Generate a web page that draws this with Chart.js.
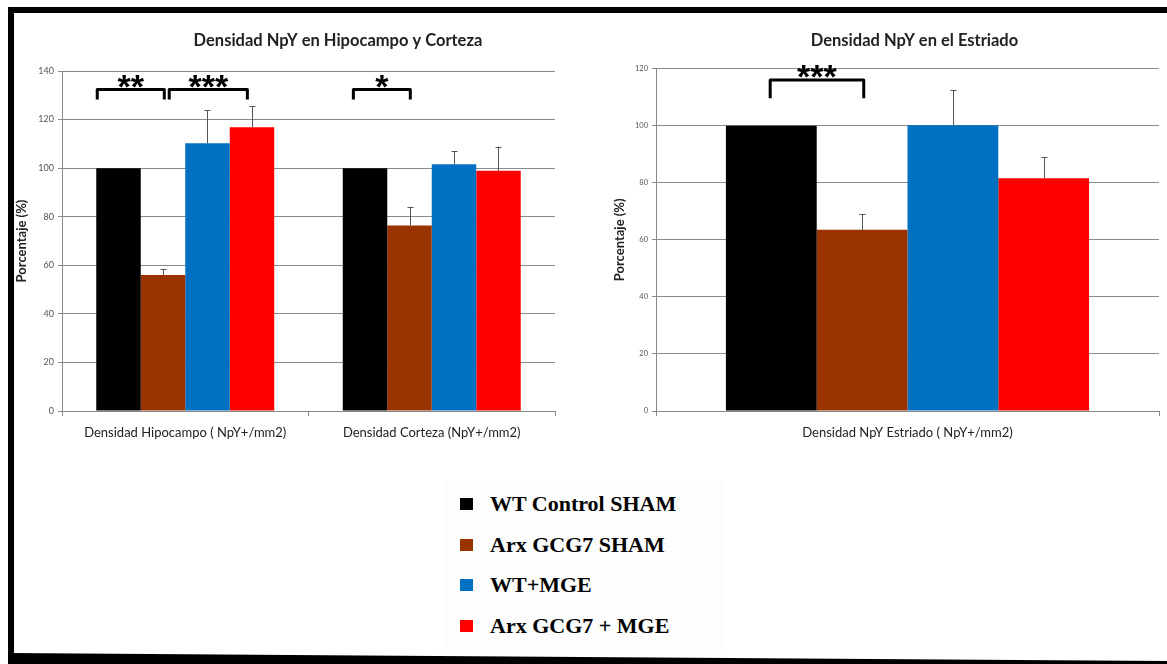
<!DOCTYPE html>
<html>
<head>
<meta charset="utf-8">
<script src="https://cdn.jsdelivr.net/npm/chart.js@4"></script>
<style>
  html, body { margin: 0; padding: 0; background: #fff; }
  body { width: 1167px; height: 664px; position: relative; overflow: hidden; }
  .frame { position: absolute; background: #000; }
  .box { position: absolute; }
  #legend { position: absolute; left: 443px; top: 480px; width: 280px; height: 170px; background: #fdfdfd; }
  .leg-row { position: absolute; left: 17px; height: 26px; display: flex; align-items: center;
    font: bold 22px "Liberation Serif", "DejaVu Serif", serif; color: #000; white-space: nowrap; }
  .leg-sw { width: 13px; height: 12px; margin-right: 17px; }
</style>
</head>
<body>
<div class="frame" style="left:8px;top:7px;width:1159px;height:6px"></div>
<div class="frame" style="left:8px;top:7px;width:6px;height:657px"></div>
<div class="frame" style="left:8px;top:650px;width:1159px;height:14px;clip-path:polygon(0 3px,100% 11px,100% 14px,0 14px)"></div>

<div class="box" style="left:14px;top:13px"><canvas id="hipo" width="576" height="437"></canvas></div>
<div class="box" style="left:590px;top:13px"><canvas id="estr" width="577" height="437"></canvas></div>
<div id="legend"></div>

<script>
// groups / colours
const groups = ['WT Control SHAM', 'Arx GCG7 SHAM', 'WT+MGE', 'Arx GCG7 + MGE'];
const groupColors = ['#000000', '#993300', '#0070C0', '#FF0000'];

// left chart: hipocampo + corteza
const leftCats = ['Densidad Hipocampo ( NpY+/mm2)', 'Densidad Corteza (NpY+/mm2)'];
const leftWtSham = [100, 100];
const leftArxSham = [56, 76.4];
const leftWtMge = [110.2, 101.6];
const leftArxMge = [116.8, 98.9];
const leftErrWtSham = [0, 0];
const leftErrArxSham = [2.3, 7.4];
const leftErrWtMge = [13.7, 5.4];
const leftErrArxMge = [8.8, 10];

// right chart: estriado
const rightCats = ['Densidad NpY Estriado ( NpY+/mm2)'];
const rightWtSham = [100];
const rightArxSham = [63.5];
const rightWtMge = [100.2];
const rightArxMge = [81.6];
const rightErrWtSham = [0];
const rightErrArxSham = [5.5];
const rightErrWtMge = [12.3];
const rightErrArxMge = [7.3];

// significance brackets (x in category units, y in data units)
const leftMarks = [
  { cat: 0, from: -0.357, to: -0.085, top: 132.4, leg: 128.3, stars: '**' },
  { cat: 0, from: -0.065, to: 0.252, top: 132.4, leg: 128.3, stars: '***' },
  { cat: 1, from: -0.318, to: -0.087, top: 132.4, leg: 128.3, stars: '*' }
];
const rightMarks = [
  { cat: 0, from: -0.273, to: -0.087, top: 116, leg: 109.6, stars: '***' }
];

const errorBars = {
  id: 'errorBars',
  afterDatasetsDraw(chart) {
    const { ctx, scales } = chart;
    ctx.save();
    ctx.strokeStyle = '#555';
    ctx.lineWidth = 1;
    chart.data.datasets.forEach((ds, i) => {
      const meta = chart.getDatasetMeta(i);
      meta.data.forEach((bar, j) => {
        const e = ds.errors[j];
        if (!e) return;
        const yTop = scales.y.getPixelForValue(ds.data[j] + e);
        ctx.beginPath();
        ctx.moveTo(Math.round(bar.x) + 0.5, bar.y);
        ctx.lineTo(Math.round(bar.x) + 0.5, yTop);
        ctx.moveTo(Math.round(bar.x) - 2.5, Math.round(yTop) + 0.5);
        ctx.lineTo(Math.round(bar.x) + 3.5, Math.round(yTop) + 0.5);
        ctx.stroke();
      });
    });
    ctx.restore();
  }
};

const brackets = {
  id: 'brackets',
  afterDraw(chart, args, opts) {
    const { ctx, scales } = chart;
    const catW = scales.x.width / scales.x.ticks.length;
    ctx.save();
    (opts.marks || []).forEach(m => {
      const c = scales.x.getPixelForValue(m.cat);
      const x1 = c + m.from * catW, x2 = c + m.to * catW;
      const yT = scales.y.getPixelForValue(m.top);
      const yL = scales.y.getPixelForValue(m.leg);
      ctx.strokeStyle = '#000';
      ctx.lineWidth = 3;
      ctx.lineJoin = 'round';
      ctx.beginPath();
      ctx.moveTo(x1, yL);
      ctx.lineTo(x1, yT);
      ctx.lineTo(x2, yT);
      ctx.lineTo(x2, yL);
      ctx.stroke();
      ctx.font = 'bold 34px "Liberation Sans", Arial, sans-serif';
      ctx.fillStyle = '#000';
      ctx.textAlign = 'center';
      ctx.textBaseline = 'alphabetic';
      const mt = ctx.measureText(m.stars);
      const cy = yT - opts.gap;
      const base = cy + (mt.actualBoundingBoxAscent - mt.actualBoundingBoxDescent) / 2;
      ctx.fillText(m.stars, (x1 + x2) / 2, base);
    });
    ctx.restore();
  }
};

// chart heading, drawn a bit right of the canvas centre like the original
const heading = {
  id: 'heading',
  afterDraw(chart, args, opts) {
    const { ctx } = chart;
    ctx.save();
    ctx.font = 'bold 16.5px Lato, sans-serif';
    ctx.fillStyle = '#222';
    ctx.textAlign = 'center';
    ctx.textBaseline = 'middle';
    ctx.fillText(opts.text, chart.width / 2 + opts.shift, opts.y);
    ctx.restore();
  }
};

function makeDatasets(vals, errs) {
  return groups.map((g, i) => ({
    label: g,
    data: vals[i],
    errors: errs[i],
    backgroundColor: groupColors[i],
    borderWidth: 0,
    categoryPercentage: 0.722,
    barPercentage: 1
  }));
}

function makeChart(id, cats, vals, errs, opt) {
  return new Chart(document.getElementById(id), {
    type: 'bar',
    data: { labels: cats, datasets: makeDatasets(vals, errs) },
    options: {
      responsive: false,
      animation: false,
      layout: { padding: { left: 0, right: opt.padRight, top: opt.padTop, bottom: 0 } },
      plugins: {
        legend: { display: false },
        tooltip: { enabled: false },
        title: { display: false },
        heading: { text: opt.title, shift: 36, y: 28 },
        brackets: { marks: opt.marks, gap: opt.starGap }
      },
      scales: {
        x: {
          grid: { offset: true, drawOnChartArea: false, tickLength: 5, color: '#888' },
          border: { color: '#888', width: 1 },
          ticks: { color: '#222', padding: 9, font: { family: 'Lato', size: 13 } },
          afterFit(s) { s.height = 39; }
        },
        y: {
          min: 0,
          max: opt.max,
          ticks: { stepSize: 20, color: '#555', padding: 4, font: { family: 'Lato', size: opt.tickSize } },
          grid: { color: '#8a8a8a', tickLength: 4 },
          border: { color: '#888', width: 1 },
          title: {
            display: true,
            text: 'Porcentaje (%)',
            color: '#222',
            font: { family: 'Lato', size: 13, weight: 'bold' },
            padding: { top: opt.yTitlePad, bottom: 0 }
          },
          afterFit(s) { s.width = opt.yWidth; }
        }
      }
    },
    plugins: [errorBars, brackets, heading]
  });
}

makeChart('hipo', leftCats,
  [leftWtSham, leftArxSham, leftWtMge, leftArxMge],
  [leftErrWtSham, leftErrArxSham, leftErrWtMge, leftErrArxMge],
  { title: 'Densidad NpY en Hipocampo y Corteza', max: 140, padRight: 35, padTop: 58, yWidth: 48,
    yTitlePad: 0, tickSize: 9, marks: leftMarks, starGap: 8 });

makeChart('estr', rightCats,
  [rightWtSham, rightArxSham, rightWtMge, rightArxMge],
  [rightErrWtSham, rightErrArxSham, rightErrWtMge, rightErrArxMge],
  { title: 'Densidad NpY en el Estriado', max: 120, padRight: 8, padTop: 55.7, yWidth: 66,
    yTitlePad: 22, tickSize: 7.5, marks: rightMarks, starGap: 9 });

// legend built from the group arrays
const legendEl = document.getElementById('legend');
groups.forEach((g, i) => {
  const row = document.createElement('div');
  row.className = 'leg-row';
  row.style.top = (11 + i * 40.7) + 'px';
  row.innerHTML = `<span class="leg-sw" style="background:${groupColors[i]}"></span><span>${g}</span>`;
  legendEl.appendChild(row);
});
</script>
</body>
</html>
